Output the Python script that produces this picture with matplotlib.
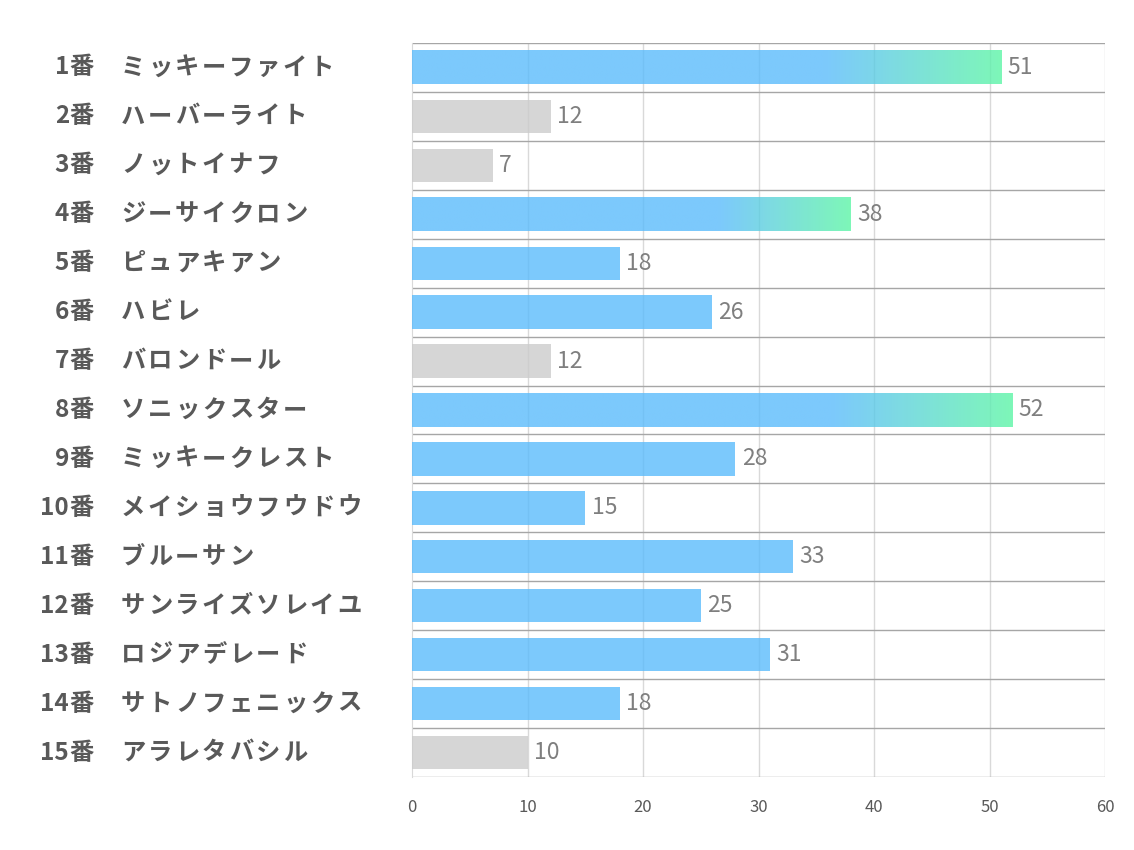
import numpy as np
import matplotlib
matplotlib.use("Agg")
import matplotlib.pyplot as plt
import matplotlib.transforms as mtransforms
from matplotlib.colors import to_rgb

plt.rcParams['font.family'] = ['Noto Sans CJK JP', 'DejaVu Sans']

numbers = ["1", "2", "3", "4", "5", "6", "7", "8",
           "9", "10", "11", "12", "13", "14", "15"]
names = ["ミッキーファイト", "ハーバーライト", "ノットイナフ", "ジーサイクロン",
         "ピュアキアン", "ハビレ", "バロンドール", "ソニックスター",
         "ミッキークレスト", "メイショウフウドウ", "ブルーサン", "サンライズソレイユ",
         "ロジアデレード", "サトノフェニックス", "アラレタバシル"]
values = [51, 12, 7, 38, 18, 26, 12, 52, 28, 15, 33, 25, 31, 18, 10]
# bar style: g = gradient (top 3), b = blue, n = gray
styles = ["g", "n", "n", "g", "b", "b", "n", "g", "b", "b", "b", "b", "b", "b", "n"]
xticks = [0, 10, 20, 30, 40, 50, 60]

blue = "#5bbcfc"
green = "#5ef5a7"
gray = "#cccccc"
alpha = 0.8
bar_h = 0.68
W, H = 1134, 850

fig = plt.figure(figsize=(W / 100, H / 100), dpi=100)
ax = fig.add_axes([412 / W, 1 - 777 / H, 693 / W, 734 / H])

ypos = np.arange(len(values))
for y, v, s in zip(ypos, values, styles):
    if s == "g":
        # blue up to 70% of bar, then fade to green
        t = np.linspace(0, 1, 256)
        f = np.clip((t - 0.7) / 0.3, 0, 1)[:, None]
        c = (1 - f) * np.array(to_rgb(blue)) + f * np.array(to_rgb(green))
        ax.imshow(c[None, :, :], extent=(0, v, y + bar_h / 2, y - bar_h / 2),
                  aspect="auto", alpha=alpha, zorder=3, interpolation="bilinear")
    else:
        ax.barh(y, v, height=bar_h, color=blue if s == "b" else gray,
                alpha=alpha, zorder=3)
    ax.annotate(str(v), (v, y), xytext=(4.5, 0), textcoords="offset points",
                va="center", ha="left", fontsize=16.5, color="#7f7f7f")

ax.set_xlim(0, 60)
ax.set_ylim(len(values) - 0.5, -0.5)
ax.set_xticks(xticks)
ax.set_yticks([])
ax.tick_params(axis="x", length=0, pad=16, labelsize=12, labelcolor="#595959")

for x in xticks[1:]:
    ax.axvline(x, color="#d9d9d9", lw=1, zorder=1)
for b in np.arange(-0.5, len(values), 1.0):
    ax.axhline(b, color="#a6a6a6", lw=1, zorder=2)

for sp in ["top", "right", "bottom"]:
    ax.spines[sp].set_visible(False)
ax.spines["left"].set_color("#d9d9d9")

# row labels, names drawn char by char to get the wide letter spacing
tr = mtransforms.blended_transform_factory(fig.transFigure, ax.transData)
lab = dict(transform=tr, va="center", fontsize=17.5, fontweight="bold", color="#595959")
for y, num, nm in zip(ypos, numbers, names):
    ax.text(69 / W, y, num, ha="right", **lab)
    ax.text(82 / W, y, "番", ha="center", **lab)
    for i, ch in enumerate(nm):
        ax.text((133 + 27 * i) / W, y, ch, ha="center", **lab)

fig.savefig("out.png", dpi=100)
